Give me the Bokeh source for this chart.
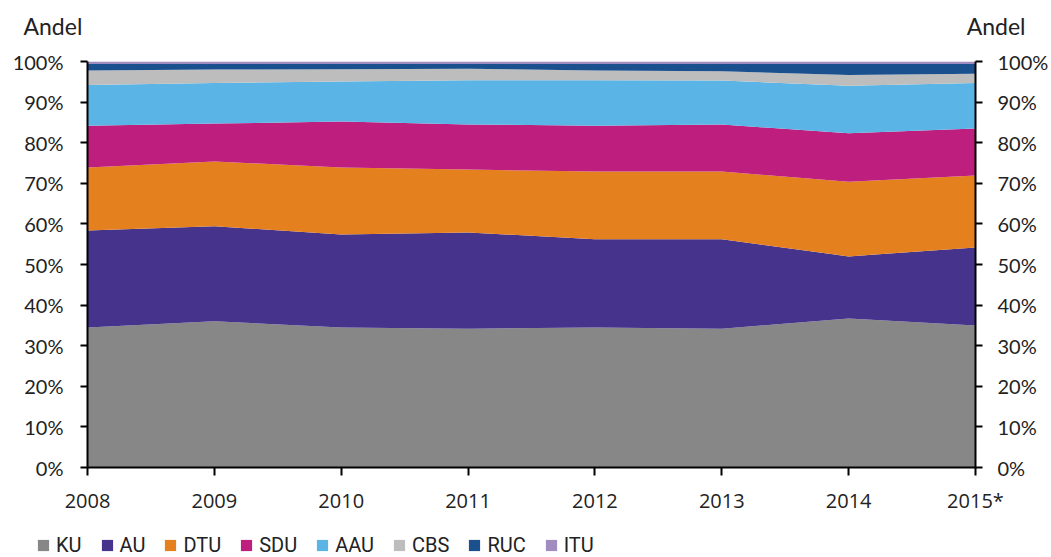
from bokeh.plotting import figure
from bokeh.models import (FixedTicker, PrintfTickFormatter, LinearAxis,
                          Legend, LegendItem, Range1d)
from bokeh.layouts import column
from bokeh.core.properties import value
from bokeh.embed import file_html
from bokeh.resources import INLINE

years = [2008, 2009, 2010, 2011, 2012, 2013, 2014, 2015]
year_labels = ["2008", "2009", "2010", "2011", "2012", "2013", "2014", "2015*"]
KU = [34.5, 36.0, 34.5, 34.2, 34.5, 34.2, 36.7, 35.0]
AU = [23.9, 23.4, 22.9, 23.7, 21.7, 22.0, 15.3, 19.2]
DTU = [15.5, 16.0, 16.5, 15.5, 16.7, 16.7, 18.4, 17.7]
SDU = [10.3, 9.3, 11.3, 11.1, 11.3, 11.6, 11.9, 11.6]
AAU = [10.0, 10.0, 9.9, 10.9, 11.2, 10.8, 11.7, 11.2]
CBS = [3.6, 3.3, 3.0, 2.8, 2.4, 2.3, 2.7, 2.3]
RUC = [1.6, 1.4, 1.3, 1.2, 1.6, 1.8, 2.7, 2.4]
ITU = [0.6, 0.6, 0.6, 0.6, 0.6, 0.6, 0.6, 0.6]
axis_title = "Andel"

names = ["KU", "AU", "DTU", "SDU", "AAU", "CBS", "RUC", "ITU"]
series = [KU, AU, DTU, SDU, AAU, CBS, RUC, ITU]
colors = ["#878787", "#46338C", "#E5801F", "#BE1E7D", "#5AB4E5", "#BDBDBD", "#1B508F", "#A08CBE"]

W = 1051
TOP_H = 40
MAIN_H = 477
LEG_H = 40
tick_font = "Lato"
text_color = "#222222"

# ---------- top strip with the axis titles ----------
top = figure(width=W, height=TOP_H, output_backend="svg", toolbar_location=None,
             x_range=Range1d(0, W), y_range=Range1d(0, TOP_H),
             x_axis_type=None, y_axis_type=None, min_border=0, frame_align=False)
top.outline_line_color = None
top.grid.visible = False
top.text(x=[23], y=[TOP_H - 25], text=[axis_title], text_font=value(tick_font),
         text_font_size="23px", text_color=text_color, text_baseline="middle", text_align="left")
top.text(x=[1025], y=[TOP_H - 25], text=[axis_title], text_font=value(tick_font),
         text_font_size="23px", text_color=text_color, text_baseline="middle", text_align="right")

# ---------- main chart ----------
data = {"x": years}
for n, s in zip(names, series):
    data[n] = s

p = figure(width=W, height=MAIN_H, output_backend="svg", toolbar_location=None,
           x_range=Range1d(2008, 2015), y_range=Range1d(0, 100),
           min_border_left=87, min_border_right=76, min_border_top=21, min_border_bottom=50,
           frame_align=False)
p.outline_line_color = None
p.xgrid.visible = False
p.ygrid.visible = False

p.varea_stack(stackers=names, x="x", color=colors, source=data)

xa = p.xaxis[0]
xa.ticker = FixedTicker(ticks=years)
xa.major_label_overrides = {y: l for y, l in zip(years, year_labels)}
xa.major_label_text_font = "Open Sans"
xa.major_label_text_font_size = "20px"
xa.major_label_text_color = text_color
xa.axis_line_width = 2
xa.major_tick_line_width = 2
xa.major_tick_in = 0
xa.major_tick_out = 8
xa.minor_tick_line_color = None
xa.major_label_standoff = 11


def style_y(ax, standoff):
    ax.ticker = FixedTicker(ticks=list(range(0, 101, 10)))
    ax.formatter = PrintfTickFormatter(format="%d%%")
    ax.major_label_text_font = tick_font
    ax.major_label_text_font_size = "20px"
    ax.major_label_text_color = text_color
    ax.axis_line_width = 2
    ax.major_tick_line_width = 2
    ax.major_tick_in = 0
    ax.major_tick_out = 7
    ax.minor_tick_line_color = None
    ax.major_label_standoff = standoff


style_y(p.yaxis[0], 17)
ra = LinearAxis()
style_y(ra, 15)
p.add_layout(ra, "right")

# ---------- legend strip ----------
leg = figure(width=W, height=LEG_H, output_backend="svg", toolbar_location=None,
             x_range=Range1d(0, 1), y_range=Range1d(0, 1),
             x_axis_type=None, y_axis_type=None, min_border=0, frame_align=False)
leg.outline_line_color = None
leg.grid.visible = False
items = []
for n, c in zip(names, colors):
    r = leg.varea(x=[-1, -0.5], y1=[0, 0], y2=[0, 0], color=c)
    items.append(LegendItem(label=n, renderers=[r]))
legend = Legend(items=items, orientation="horizontal", location=(36, 0),
                padding=0, margin=0, spacing=18, label_standoff=6,
                glyph_width=14, glyph_height=14,
                label_text_font="Roboto",
                label_text_font_size="20px", label_text_color=text_color,
                border_line_alpha=0, background_fill_alpha=0)
leg.add_layout(legend, "center")

layout = column(top, p, leg, spacing=0)
open("out.html", "w").write(file_html(layout, INLINE))
